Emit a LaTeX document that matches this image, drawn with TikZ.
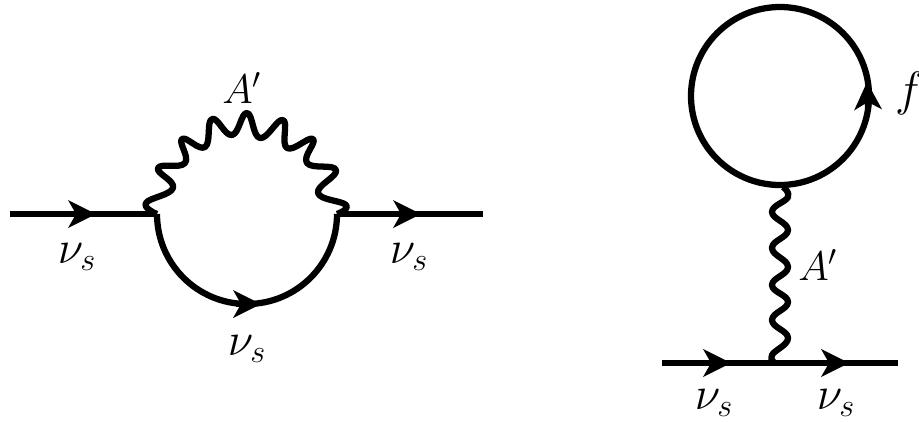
\documentclass[tikz,border=0pt]{standalone}
\usetikzlibrary{arrows.meta}
\tikzset{
 fermion/.style={line width=4.7pt},
 boson/.style={line width=4.7pt,line join=round},
 tip/.style={-{Stealth[length=21pt,width=21pt,inset=6pt,line width=0pt]},line width=4.7pt},
 lab/.style={inner sep=0pt,font=\fontsize{27}{30}\selectfont,transform shape},
 nulab/.style={lab,scale=1.4},
 alab/.style={lab,scale=1.25},
 flab/.style={lab,scale=1.45,anchor=west}
}
\begin{document}
\begin{tikzpicture}[x=.75pt,y=-.75pt]
\useasboundingbox (0,0) rectangle (919,421);
\clip (0,0) rectangle (919,421);
\coordinate (L0) at (10,214);
\coordinate (L1) at (157,214);
\coordinate (R1) at (337,214);
\coordinate (R0) at (483,214);
\coordinate (LB) at (72,214);
\coordinate (LT) at (96,214);
\coordinate (RB) at (396,214);
\coordinate (RT) at (421,214);
\coordinate (BB) at (236,304);
\coordinate (BT) at (261,304);
\draw[fermion] (L0) -- (L1);
\draw[fermion] (R1) -- (R0);
\draw[tip] (LB) -- (LT);
\draw[tip] (RB) -- (RT);
\draw[fermion] (L1) arc[start angle=180,end angle=0,radius=90];
\draw[tip] (BB) -- (BT);
\draw[boson] plot[smooth,tension=0.75] coordinates {(157,214) (146,203) (173,188) (158,168) (185,163) (182,139) (205,147) (212,119) (232,135) (247,113) (260,138) (283,120) (287,148) (313,139) (307,163) (336,170) (318,193) (346,205) (337,214)};
\node[nulab] (n1) at (77,257) {$\nu_s$};
\node[nulab] (n2) at (409,257) {$\nu_s$};
\node[nulab] (n3) at (247,349) {$\nu_s$};
\node[alab] (a1) at (242,88) {$A'$};
\coordinate (C) at (780,96);
\coordinate (CB) at (868,108);
\coordinate (CT) at (867,82);
\draw[fermion] (C) circle[radius=89];
\draw[tip] (CB) -- (CT);
\coordinate (B) at (775,363);
\coordinate (T) at (783,187);
\draw[boson] plot[smooth,tension=0.75] coordinates {(T) (788,197) (772,212) (788,230) (772,248) (788,267) (772,285) (788,302) (772,320) (788,338) (772,355) (B)};
\coordinate (F0) at (662,363);
\coordinate (F1) at (898,363);
\coordinate (F2) at (706,363);
\coordinate (F3) at (731,363);
\coordinate (F4) at (824,363);
\coordinate (F5) at (849,363);
\draw[fermion] (F0) -- (F1);
\draw[tip] (F2) -- (F3);
\draw[tip] (F4) -- (F5);
\node[flab] (f) at (895,93) {$f$};
\node[alab] (a2) at (818,265) {$A'$};
\node[nulab] (n4) at (714,403) {$\nu_s$};
\node[nulab] (n5) at (836,403) {$\nu_s$};
\end{tikzpicture}
\end{document}
